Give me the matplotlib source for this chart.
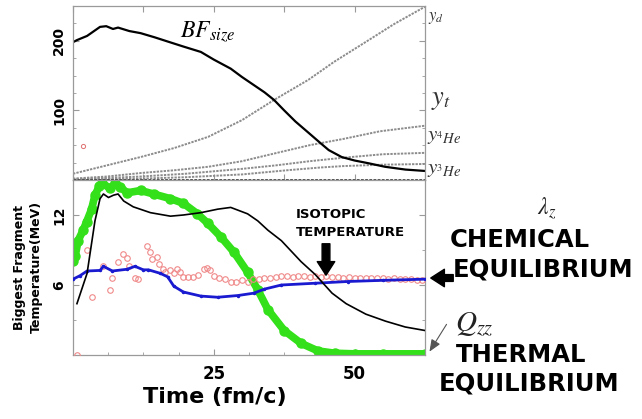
import matplotlib
matplotlib.use("Agg")
import matplotlib.pyplot as plt
from matplotlib.ticker import MultipleLocator, FixedLocator

plt.rcParams['mathtext.fontset'] = 'stix'
plt.rcParams['font.family'] = ['DejaVu Sans']

# ---------------- data ----------------
# top panel
bf_x = [0, 0.7, 2.5, 4.8, 5.9, 7.1, 8.0, 10.0, 12.0, 14.5, 16.8, 19.5, 22.7, 25.0, 28.0, 30.0, 32.0, 34.0,
        35.7, 37.5, 39.5, 41.8, 43.8, 45.4, 47.7, 50.0, 52.5, 55.4, 59.0, 62.5]
bf_y = [198, 201, 207, 220, 221, 217, 219, 214, 211, 205, 199, 192, 184, 173, 160, 148, 137, 126,
        115, 100, 84, 68, 54, 43, 33, 28, 24, 19, 15, 13]

yd_x = [0, 6, 12, 18, 24, 30, 35.7, 41.8, 46.4, 52.5, 57, 62.5]
yd_y = [9, 21, 33, 46, 62, 86, 115, 144, 170, 201, 224, 249]

yt_x = [0, 6, 12, 18, 24, 30, 35.7, 42, 48, 54.5, 62.5]
yt_y = [2, 5, 10, 14, 19, 27, 38, 50, 59, 70, 78]

y4_x = [0, 12, 20, 30, 36, 42, 48, 55, 62.5]
y4_y = [1, 5, 9, 16, 21, 27, 32, 37, 39]

y3_x = [0, 12, 20, 30, 38, 44, 48, 55, 62.5]
y3_y = [0.5, 2, 4, 8, 14, 18, 20, 22, 23]

stray_x = [1.8]
stray_y = [49]

# bottom panel
green_x = [0, 0.4, 0.9, 1.8, 2.4, 3.3, 3.9, 4.7, 5.2, 6.6, 7.5, 8.4, 9.6, 12.0, 14.3, 17.3, 19.6, 22.1,
           23.9, 26.3, 28.6, 31.0, 32.8, 34.6, 37.5, 40.5, 43.5, 46.5, 50, 55, 62.5]
green_y = [8.1, 8.5, 9.8, 10.7, 11.4, 12.5, 13.7, 14.5, 14.7, 14.3, 14.7, 14.4, 13.9, 14.1, 13.8, 13.4,
           13.0, 12.1, 11.3, 10.1, 8.8, 7.1, 5.6, 3.9, 2.1, 1.0, 0.35, 0.15, 0.1, 0.1, 0.1]

black_x = [0.7, 2.5, 3.9, 4.8, 5.4, 6.3, 7.2, 8.0, 9.0, 10.7, 13.75, 17.3, 19.6, 22.7, 25.7, 28.0, 31.0,
           32.8, 34.6, 37.0, 40.5, 43.0, 46.0, 48.5, 52.0, 55.5, 59.0, 62.5]
black_y = [4.4, 7.0, 11.5, 13.4, 13.8, 13.5, 13.7, 13.8, 13.2, 12.7, 12.2, 11.9, 12.0, 12.2, 12.5, 12.65,
           12.1, 11.5, 10.7, 9.8, 8.0, 6.9, 5.3, 4.4, 3.5, 2.9, 2.4, 2.1]

blue_x = [0, 1.25, 2.5, 4.8, 5.4, 7.0, 9.6, 11.0, 12.5, 13.4, 15.5, 16.8, 17.9, 19.6, 22.7, 25.7, 29.3,
          32.1, 34.0, 37.0, 42.9, 48.8, 55.0, 62.5]
blue_y = [6.5, 6.8, 7.2, 7.25, 7.6, 7.2, 7.35, 7.6, 7.3, 7.3, 7.0, 6.7, 5.9, 5.4, 5.05, 4.95, 5.1,
          5.3, 5.65, 6.0, 6.15, 6.3, 6.4, 6.5]

red_x = [0.7, 2.4, 3.4, 5.4, 6.6, 7.0, 8.0, 8.8, 9.6, 10.0, 11.0, 11.6, 13.2, 13.75, 14.1, 15.0, 15.3,
         15.9, 16.4, 17.3, 17.9, 18.5, 19.0, 19.6, 20.5, 21.3, 22.2, 23.2, 23.8, 24.4, 25.0, 26.0, 27.0,
         28.0, 29.0, 30.0, 31.0, 32.0, 33.0, 34.0, 35.0, 36.0, 37.0, 38.0, 39.0, 40.0, 41.0, 42.0, 43.0,
         44.0, 45.0, 46.0, 47.0, 48.0, 49.0, 50.0, 51.0, 52.0, 53.0, 54.0, 55.0, 56.0, 57.0, 58.0, 59.0,
         60.0, 61.0, 62.0]
red_y = [0.0, 9.0, 5.0, 7.6, 5.6, 6.6, 8.0, 8.7, 8.3, 7.6, 6.6, 6.5, 9.3, 8.8, 8.2, 8.4, 7.8,
         7.4, 7.1, 7.3, 7.0, 7.4, 7.1, 6.7, 6.7, 6.7, 6.9, 7.4, 7.5, 7.3, 6.8, 6.6, 6.5,
         6.3, 6.3, 6.4, 6.3, 6.5, 6.5, 6.6, 6.6, 6.7, 6.8, 6.8, 6.7, 6.8, 6.8, 6.7, 6.8,
         6.7, 6.8, 6.7, 6.7, 6.6, 6.7, 6.6, 6.6, 6.6, 6.6, 6.6, 6.6, 6.5, 6.6, 6.5, 6.5,
         6.5, 6.4, 6.4]

top_yticks = [100, 200]
bot_yticks = [6, 12]
bot_xticks = [25, 50]

# ---------------- figure ----------------
W, H = 642, 419
fig = plt.figure(figsize=(W / 100, H / 100), dpi=100)


def P(x, y):
    return (x / W, 1 - y / H)


L, R = 73, 425
ax1 = fig.add_axes([L / W, 1 - 180 / H, (R - L) / W, 174 / H])
ax2 = fig.add_axes([L / W, 1 - 355 / H, (R - L) / W, 175 / H])

spine_c = '#9a9a9a'
for ax in (ax1, ax2):
    for s in ax.spines.values():
        s.set_color(spine_c)
        s.set_linewidth(0.9)
    ax.tick_params(which='both', direction='in', color=spine_c, top=True, right=True)
    ax.tick_params(which='major', length=4)
    ax.tick_params(which='minor', length=2.5)
    ax.set_xlim(0, 62.5)

# top panel
gray = '#8c8c8c'
for xs, ys in ((yd_x, yd_y), (yt_x, yt_y), (y4_x, y4_y), (y3_x, y3_y)):
    ax1.plot(xs, ys, color=gray, lw=1.4, ls=(0, (1.2, 0.6)))
ax1.plot(bf_x, bf_y, color='black', lw=1.6)
ax1.plot(stray_x, stray_y, 'o', mfc='none', mec='#e07070', ms=3, mew=0.7)
ax1.axhline(0, color='#333333', lw=2, ls=(0, (1, 0.5)))
ax1.set_ylim(0, 250)
ax1.yaxis.set_major_locator(FixedLocator(top_yticks))
ax1.yaxis.set_minor_locator(MultipleLocator(25))
ax1.xaxis.set_major_locator(MultipleLocator(12.5))
ax1.set_xticklabels([])
ax1.set_yticklabels([str(v) for v in top_yticks], rotation=90, va='center',
                    fontsize=10, fontweight='bold')
ax1.tick_params(axis='y', which='major', pad=5)

# bottom panel
ax2.plot(green_x, green_y, color='#33e01a', lw=5.5, solid_capstyle='round', zorder=2)
ax2.plot(green_x, green_y, 'o', color='#33e01a', ms=6.5, zorder=2)
ax2.plot(red_x, red_y, 'o', mfc='none', mec='#f08a8a', ms=4, mew=0.8, zorder=3)
ax2.plot(blue_x, blue_y, color='#1a1ad0', lw=2, marker='.', ms=3, zorder=4)
ax2.plot(black_x, black_y, color='black', lw=1.2, zorder=5)
ax2.set_ylim(0, 15)
ax2.yaxis.set_major_locator(FixedLocator(bot_yticks))
ax2.yaxis.set_minor_locator(MultipleLocator(3))
ax2.xaxis.set_major_locator(FixedLocator(bot_xticks))
ax2.xaxis.set_minor_locator(MultipleLocator(6.25))
ax2.tick_params(top=False, which='both')
ax2.set_xticklabels([str(v) for v in bot_xticks], fontsize=12, fontweight='bold')
ax2.set_yticklabels([str(v) for v in bot_yticks], rotation=90, va='center',
                    fontsize=10, fontweight='bold')
ax2.tick_params(axis='x', which='major', pad=7)
ax2.tick_params(axis='y', which='major', pad=5)

# axis labels
fig.text(*P(215, 397), 'Time (fm/c)', ha='center', va='center', fontsize=16, fontweight='bold')
fig.text(*P(28, 267), 'Biggest Fragment\nTemperature(MeV)', ha='center', va='center',
         rotation=90, fontsize=9, fontweight='bold', linespacing=1.3)

# math annotations
fig.text(*P(180, 38), r'$BF_{size}$', fontsize=17, va='baseline', ha='left')
fig.text(*P(428, 20), r'$y_d$', fontsize=12, va='baseline', ha='left', color='#333333')
fig.text(*P(431, 104), r'$y_t$', fontsize=19, va='baseline', ha='left', color='#333333')
fig.text(*P(427, 141), r'$y_{{}^{4}He}$', fontsize=15, va='baseline', ha='left', color='#333333')
fig.text(*P(427, 174), r'$y_{{}^{3}He}$', fontsize=15, va='baseline', ha='left', color='#333333')
fig.text(*P(537, 215), r'$\lambda_z$', fontsize=17, va='baseline', ha='left', color='#222222')
fig.text(*P(455, 331), r'$Q_{zz}$', fontsize=21, va='baseline', ha='left', color='#222222')

# bold block texts
fig.text(*P(450, 240), 'CHEMICAL', fontsize=17.5, fontweight='bold', va='center', ha='left')
fig.text(*P(453, 269), 'EQUILIBRIUM', fontsize=17.5, fontweight='bold', va='center', ha='left')
fig.text(*P(456, 355), 'THERMAL', fontsize=17.5, fontweight='bold', va='center', ha='left')
fig.text(*P(439, 383), 'EQUILIBRIUM', fontsize=17.5, fontweight='bold', va='center', ha='left')
fig.text(*P(296, 214), 'ISOTOPIC', fontsize=9.5, fontweight='bold', va='center', ha='left')
fig.text(*P(296, 232), 'TEMPERATURE', fontsize=9.5, fontweight='bold', va='center', ha='left')

# arrows
fig.add_artist(matplotlib.patches.FancyArrowPatch(
    P(456, 278), P(428, 278), transform=fig.transFigure,
    arrowstyle='simple,head_width=0.9,head_length=0.7,tail_width=0.35',
    mutation_scale=14, color='black'))
fig.add_artist(matplotlib.patches.FancyArrowPatch(
    P(326, 241), P(326, 278), transform=fig.transFigure,
    arrowstyle='simple,head_width=0.9,head_length=0.7,tail_width=0.4',
    mutation_scale=14, color='black'))
fig.add_artist(matplotlib.patches.FancyArrowPatch(
    P(448, 322), P(428, 354), transform=fig.transFigure,
    arrowstyle='-|>,head_width=0.25,head_length=0.6', mutation_scale=12,
    color='#555555', lw=0.8))

fig.savefig('out.png', dpi=100)
